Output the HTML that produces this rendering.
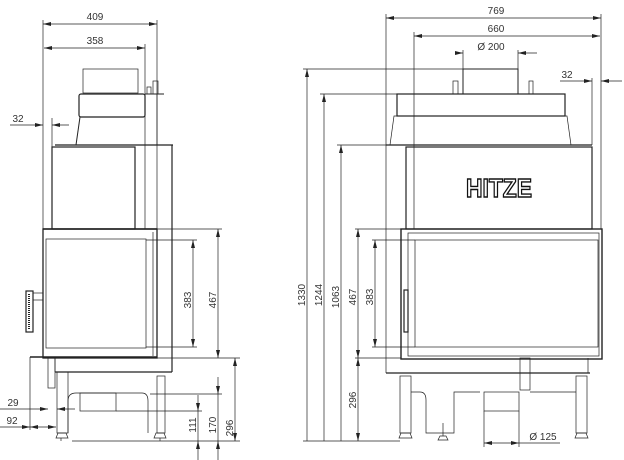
<!DOCTYPE html>
<html><head><meta charset="utf-8"><style>
html,body{margin:0;padding:0;background:#fff;}
svg{display:block;}
text{font-family:"Liberation Sans",sans-serif;font-size:10px;fill:#333;}
</style></head><body>
<svg width="624" height="460" viewBox="0 0 624 460" xmlns="http://www.w3.org/2000/svg">
<defs>
<marker id="a" markerWidth="8" markerHeight="4" refX="8" refY="2" orient="auto-start-reverse" markerUnits="userSpaceOnUse">
<path d="M0,0 L8,2 L0,4 z" fill="#222"/></marker>
</defs>
<g stroke="#222" stroke-width="0.7" fill="none">
<!-- ===== LEFT VIEW ===== -->
<line x1="43" y1="24" x2="157" y2="24" marker-start="url(#a)" marker-end="url(#a)"/>
<line x1="44" y1="48" x2="145" y2="48" marker-start="url(#a)" marker-end="url(#a)"/>
<line x1="43" y1="20" x2="43" y2="229"/>
<line x1="145" y1="44" x2="145" y2="229"/>
<line x1="157" y1="20" x2="157" y2="229"/>
<line x1="10" y1="125" x2="43" y2="125" marker-end="url(#a)"/>
<line x1="69" y1="125" x2="52" y2="125" marker-end="url(#a)"/>
<line x1="52" y1="118" x2="52" y2="147"/>
<rect x="83" y="69" width="55" height="24"/>
<rect x="79" y="94" width="66" height="23" rx="2" stroke-width="1.2"/>
<line x1="80" y1="117" x2="76" y2="145" stroke-width="1"/>
<rect x="147" y="87" width="4" height="7"/>
<rect x="153" y="81" width="5" height="13"/>
<line x1="145" y1="94" x2="164" y2="94" stroke-width="1"/>
<line x1="157" y1="94" x2="157" y2="145"/>
<line x1="55" y1="145" x2="173" y2="145" stroke-width="1.2"/>
<rect x="52" y="147" width="83" height="82" stroke-width="1.2"/>
<line x1="172" y1="145" x2="172" y2="372" stroke-width="1.2"/>
<line x1="43" y1="229" x2="157" y2="229" stroke-width="1.6"/>
<rect x="43" y="229" width="114" height="129" stroke-width="1.3"/>
<rect x="46" y="239" width="100" height="109"/>
<line x1="153" y1="232" x2="153" y2="356"/>
<rect x="26" y="291" width="7" height="41" stroke-width="1.2"/>
<line x1="29" y1="294" x2="29" y2="329" stroke-dasharray="1,1" stroke-width="2"/>
<rect x="33" y="293" width="10" height="7"/>
<line x1="30" y1="357" x2="157" y2="357" stroke-width="1.6"/>
<line x1="55" y1="372" x2="172" y2="372" stroke-width="1.2"/>
<line x1="55" y1="358" x2="55" y2="372"/>
<rect x="48" y="358" width="7" height="30"/>
<rect x="57" y="372" width="11" height="61"/>
<rect x="157" y="376" width="8" height="57"/>
<path d="M68,433 L68,401 Q68,393 76,393 L142,393 Q148,393 148,401 L148,433"/>
<rect x="80" y="393" width="36" height="18"/>
<path d="M58,433 L66,433 L68,438 L56,438 z"/>
<path d="M156,433 L164,433 L166,438 L154,438 z"/>
<line x1="61" y1="438" x2="61" y2="441"/><line x1="160" y1="438" x2="160" y2="441"/>
<line x1="157" y1="229" x2="222" y2="229"/>
<line x1="146" y1="240" x2="197" y2="240"/>
<line x1="146" y1="347" x2="197" y2="347"/>
<line x1="157" y1="358" x2="240" y2="358"/>
<line x1="193" y1="240" x2="193" y2="347" marker-start="url(#a)" marker-end="url(#a)"/>
<line x1="218" y1="229" x2="218" y2="358" marker-start="url(#a)" marker-end="url(#a)"/>
<line x1="235" y1="358" x2="235" y2="441" marker-start="url(#a)" marker-end="url(#a)"/>
<line x1="150" y1="394" x2="222" y2="394"/>
<line x1="116" y1="411" x2="202" y2="411"/>
<line x1="72" y1="441" x2="240" y2="441"/>
<line x1="218" y1="377" x2="218" y2="394" marker-end="url(#a)"/>
<line x1="218" y1="460" x2="218" y2="441" marker-end="url(#a)"/>
<line x1="198" y1="395" x2="198" y2="411" marker-end="url(#a)"/>
<line x1="198" y1="460" x2="198" y2="441" marker-end="url(#a)"/>
<line x1="218" y1="394" x2="218" y2="441"/>
<line x1="198" y1="411" x2="198" y2="441"/>
<line x1="30" y1="357" x2="30" y2="430"/>
<line x1="0" y1="409" x2="48" y2="409" marker-end="url(#a)"/>
<line x1="75" y1="409" x2="57" y2="409" marker-end="url(#a)"/>
<line x1="0" y1="427" x2="30" y2="427" marker-end="url(#a)"/>
<line x1="30" y1="427" x2="56" y2="427" marker-start="url(#a)" marker-end="url(#a)"/>
<!-- ===== RIGHT VIEW ===== -->
<line x1="386" y1="18" x2="601" y2="18" marker-start="url(#a)" marker-end="url(#a)"/>
<line x1="414" y1="36" x2="600" y2="36" marker-start="url(#a)" marker-end="url(#a)"/>
<line x1="386" y1="14" x2="386" y2="145"/>
<line x1="414" y1="32" x2="414" y2="229"/>
<line x1="601" y1="14" x2="601" y2="229"/>
<line x1="455" y1="53" x2="463" y2="53" marker-end="url(#a)"/>
<line x1="537" y1="53" x2="518" y2="53" marker-end="url(#a)"/>
<line x1="463" y1="50" x2="463" y2="69"/>
<line x1="518" y1="50" x2="518" y2="69"/>
<line x1="560" y1="81" x2="592" y2="81" marker-end="url(#a)"/>
<line x1="622" y1="81" x2="601" y2="81" marker-end="url(#a)"/>
<line x1="592" y1="78" x2="592" y2="145"/>
<rect x="463" y="69" width="55" height="25" stroke-width="1"/>
<rect x="453" y="81" width="5" height="13"/>
<rect x="529" y="81" width="4" height="13"/>
<rect x="397" y="94" width="168" height="22" stroke-width="1.2"/>
<path d="M394,116 L567,116 L571,145 L390,145 z"/>
<line x1="386" y1="145" x2="592" y2="145" stroke-width="1.2"/>
<rect x="406" y="147" width="186" height="82" stroke-width="1.2"/>
<line x1="386" y1="145" x2="386" y2="373"/>
<rect x="401" y="229" width="201" height="130" stroke-width="1.4"/>
<rect x="408" y="233" width="191" height="123"/>
<rect x="415" y="240" width="183" height="107"/>
<rect x="404" y="290" width="4" height="42" stroke-width="1.2"/>
<line x1="386" y1="373" x2="590" y2="373" stroke-width="1.2"/>
<line x1="588" y1="358" x2="588" y2="373"/>
<rect x="520" y="358" width="10" height="32"/>
<rect x="400" y="376" width="11" height="57"/>
<rect x="576" y="376" width="11" height="57"/>
<path d="M411,392 L420,392 Q426,392 426,400 L426,433 L454,433 L454,392 L480,392"/>
<path d="M530,392 L576,392"/>
<rect x="484" y="392" width="35" height="19"/>
<path d="M401,433 L410,433 L412,438 L399,438 z"/>
<path d="M577,433 L586,433 L588,438 L575,438 z"/>
<line x1="443" y1="423" x2="443" y2="436"/>
<path d="M440,436 L446,436 L448,440 L438,440 z"/>
<line x1="303" y1="69" x2="463" y2="69"/>
<line x1="320" y1="94" x2="397" y2="94"/>
<line x1="337" y1="145" x2="386" y2="145"/>
<line x1="355" y1="229" x2="401" y2="229"/>
<line x1="372" y1="240" x2="415" y2="240"/>
<line x1="372" y1="347" x2="415" y2="347"/>
<line x1="355" y1="358" x2="401" y2="358"/>
<line x1="303" y1="441" x2="400" y2="441"/>
<line x1="307" y1="441" x2="307" y2="69" marker-end="url(#a)"/>
<line x1="324" y1="441" x2="324" y2="94" marker-end="url(#a)"/>
<line x1="341" y1="441" x2="341" y2="145" marker-end="url(#a)"/>
<line x1="358" y1="229" x2="358" y2="358" marker-start="url(#a)" marker-end="url(#a)"/>
<line x1="375" y1="240" x2="375" y2="347" marker-start="url(#a)" marker-end="url(#a)"/>
<line x1="358" y1="358" x2="358" y2="441" marker-start="url(#a)" marker-end="url(#a)"/>
<line x1="484" y1="411" x2="484" y2="447"/>
<line x1="519" y1="411" x2="519" y2="447"/>
<line x1="484" y1="443" x2="519" y2="443" marker-start="url(#a)" marker-end="url(#a)"/>
<line x1="519" y1="443" x2="560" y2="443"/>
</g>
<text x="95" y="20" text-anchor="middle">409</text>
<text x="95" y="44" text-anchor="middle">358</text>
<text x="18" y="122" text-anchor="middle">32</text>
<text x="13" y="406" text-anchor="middle">29</text>
<text x="12" y="424" text-anchor="middle">92</text>
<text transform="translate(191,300) rotate(-90)" text-anchor="middle">383</text>
<text transform="translate(216,300) rotate(-90)" text-anchor="middle">467</text>
<text transform="translate(196,425) rotate(-90)" text-anchor="middle">111</text>
<text transform="translate(216,425) rotate(-90)" text-anchor="middle">170</text>
<text transform="translate(233,428) rotate(-90)" text-anchor="middle">296</text>
<text x="496" y="14" text-anchor="middle">769</text>
<text x="496" y="32" text-anchor="middle">660</text>
<text x="491" y="50" text-anchor="middle">Ø 200</text>
<text x="567" y="78" text-anchor="middle">32</text>
<text transform="translate(305,295) rotate(-90)" text-anchor="middle">1330</text>
<text transform="translate(322,295) rotate(-90)" text-anchor="middle">1244</text>
<text transform="translate(339,297) rotate(-90)" text-anchor="middle">1063</text>
<text transform="translate(356,297) rotate(-90)" text-anchor="middle">467</text>
<text transform="translate(373,297) rotate(-90)" text-anchor="middle">383</text>
<text transform="translate(356,400) rotate(-90)" text-anchor="middle">296</text>
<text x="543" y="440" text-anchor="middle">Ø 125</text>
<text x="466" y="197" textLength="66" lengthAdjust="spacingAndGlyphs" style="font-size:26px;font-weight:bold;fill:#fff;stroke:#111;stroke-width:1.4">HITZE</text>
</svg>
</body></html>
